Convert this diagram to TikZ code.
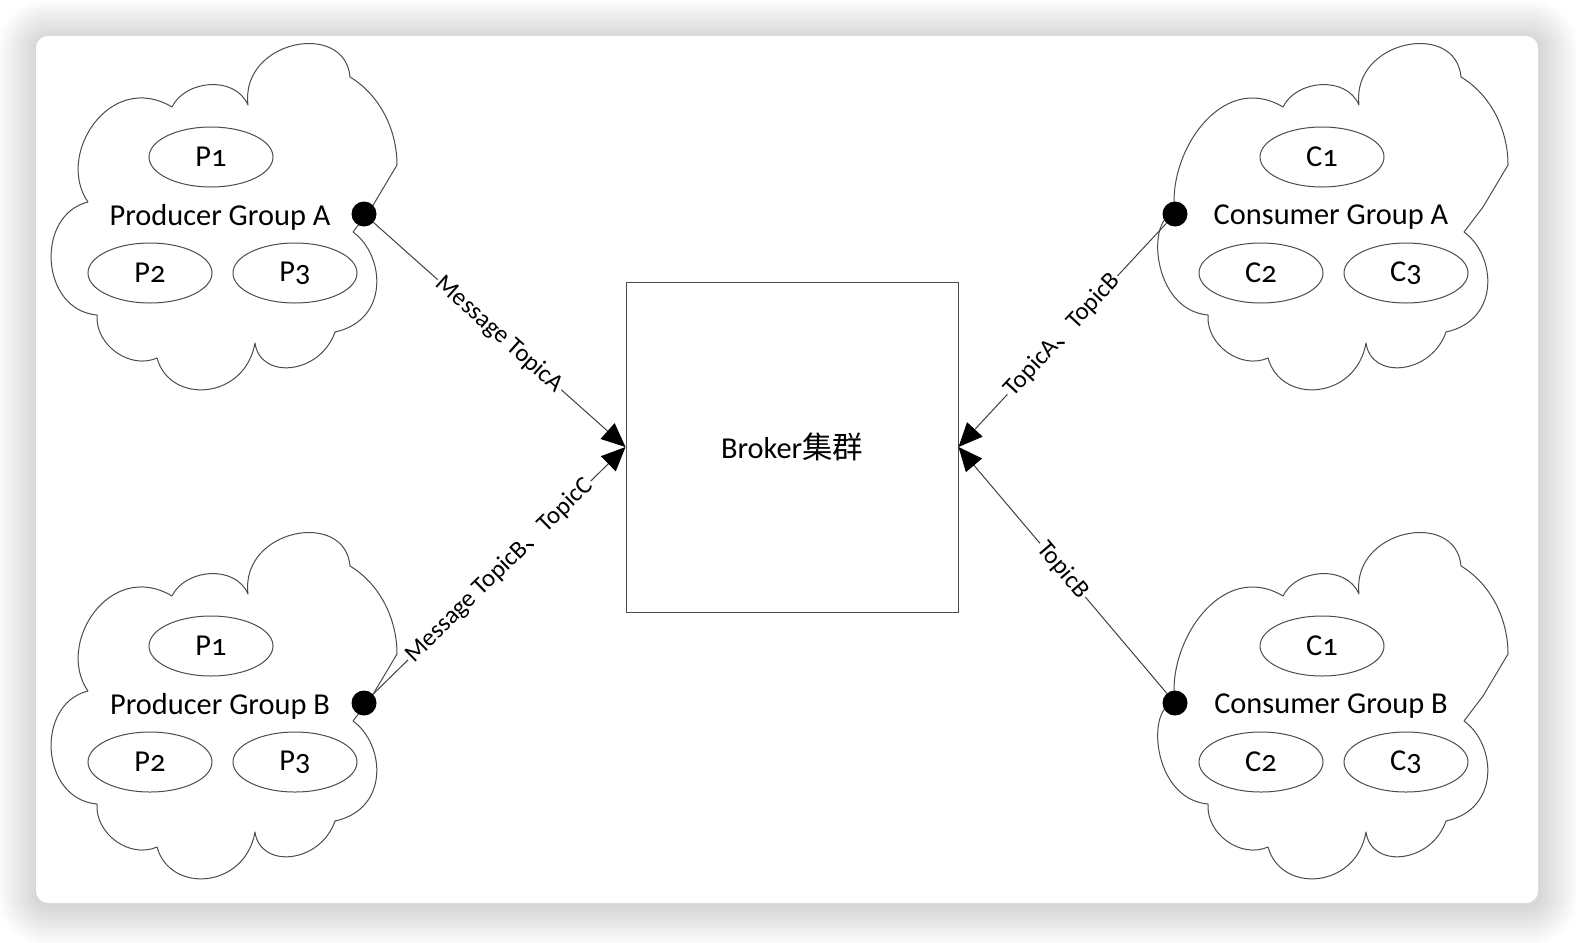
\documentclass[tikz,border=0pt]{standalone}
\usepackage{fontspec}
\setmainfont{Carlito}[Numbers=OldStyle]
\newfontfamily\cjk{Noto Sans CJK SC}
\usetikzlibrary{arrows.meta,shapes.geometric}
\newcommand{\drawCloud}[4]{% top left offset: x,y; left joint: x,y
  \begin{scope}[shift={(#1,#2)}]
  \draw[cloudline] (#3,#4)
    .. controls (55,155) and (110,70) .. (172,107)
    .. controls (185,80) and (235,75) .. (248,105)
    .. controls (240,40) and (345,20) .. (350,77)
    .. controls (380,95) and (397,130) .. (397,165)
    -- (372,207) -- (353,232)
    .. controls (385,255) and (390,320) .. (335,332)
    .. controls (320,375) and (260,380) .. (255,343)
    .. controls (245,400) and (170,405) .. (157,358)
    .. controls (130,370) and (95,345) .. (97,315)
    .. controls (40,310) and (35,215) .. (#3,#4);
  \end{scope}
}
\newcommand{\drawMembers}[4]{% offset: x,y; name; letter
  \node[member] (#3-1) at (#1+211,#2+157) {#41};
  \node[member] (#3-2) at (#1+150,#2+273) {#42};
  \node[member] (#3-3) at (#1+295,#2+273) {#43};
}

\begin{document}
\begin{tikzpicture}[x=1bp,y=-1bp,
  every node/.style={font=\fontsize{30.5}{36}\selectfont},
  cloudline/.style={line width=1bp,black!70,line join=round},
  member/.style={draw=black!70,line width=1bp,ellipse,minimum width=124bp,minimum height=60bp,inner sep=0pt},
  dot/.style={circle,fill=black,minimum size=25bp,inner sep=0pt},
  link/.style={line width=1bp,draw=black!75,-{Triangle[length=24bp,width=21bp,black]}},
  tag/.style={sloped,fill=white,inner sep=2bp,font=\fontsize{25}{30}\selectfont}]
\useasboundingbox (0,0) rectangle (1576,942);

% Card and its shadow
\fill[white] (0,0) rectangle (1576,942);
\begin{scope}
\clip (0,0) rectangle (1576,942);
\foreach \i [evaluate=\i as \r using 12+2*\i] in {1,...,20}
  \fill[black,opacity=0.009,rounded corners=\r bp] (36-2*\i+1,36-2*\i+3) rectangle (1538+2*\i+1,903+2*\i+3);
\end{scope}
\fill[white,rounded corners=12bp] (36,36) rectangle (1538,903);

% Broker
\node[draw=black!70,line width=1bp,minimum width=332bp,minimum height=330bp] (broker) at (792,447) {Broker{\cjk 集群}};

% Producer Group A
\drawCloud{0}{0}{88}{202}
\drawMembers{0}{0}{pa}{P}
\node (pa-name) at (220,217) {Producer Group A};
\node[dot] (pa) at (364,214) {};

% Producer Group B
\drawCloud{0}{489}{88}{202}
\drawMembers{0}{489}{pb}{P}
\node (pb-name) at (220,706) {Producer Group B};
\node[dot] (pb) at (364,703) {};

% Consumer Group A
\drawCloud{1111}{0}{64}{214}
\drawMembers{1111}{0}{ca}{C}
\node (ca-name) at (1331,217) {Consumer Group A};
\node[dot] (ca) at (1175,214) {};

% Consumer Group B
\drawCloud{1111}{489}{64}{214}
\drawMembers{1111}{489}{cb}{C}
\node (cb-name) at (1331,706) {Consumer Group B};
\node[dot] (cb) at (1175,703) {};

% Links to the broker
\draw[link] (pa) -- node[tag] {Message TopicA} (broker.west);
\draw[link] (pb) -- node[tag] {Message TopicB{\cjk 、}TopicC} (broker.west);
\draw[link] (ca) -- node[tag] {TopicA{\cjk 、}TopicB} (broker.east);
\draw[link] (cb) -- node[tag] {TopicB} (broker.east);
\end{tikzpicture}
\end{document}
